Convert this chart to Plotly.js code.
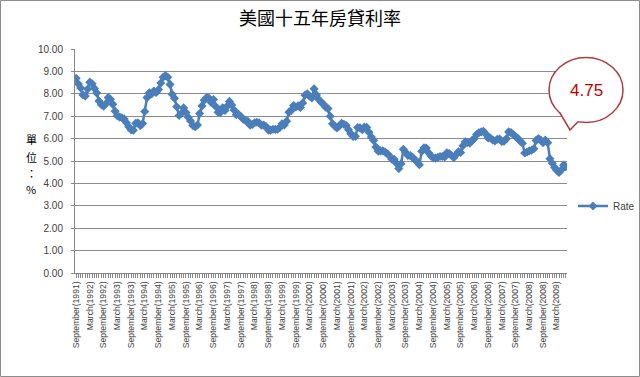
<!DOCTYPE html>
<html>
<head>
<meta charset="utf-8">
<script src="https://cdn.plot.ly/plotly-3.0.1.min.js"></script>
<style>
  html, body { margin: 0; padding: 0; background: #fff; overflow: hidden; width: 640px; height: 377px; }
  #chart { width: 640px; height: 377px; }
</style>
</head>
<body>
<div id="chart"></div>
<script>
// Monthly 15-year mortgage rate (%), September 1991 – July 2009
const startYear = 1991;
const startMonth = 9;
const rates1991 = [8.69, 8.44, 8.26, 7.95];
const rates1992 = [7.90, 8.21, 8.52, 8.45, 8.24, 8.04, 7.68, 7.51, 7.45, 7.56, 7.83, 7.76];
const rates1993 = [7.53, 7.22, 7.02, 6.96, 6.93, 6.88, 6.71, 6.53, 6.39, 6.37, 6.68, 6.70];
const rates1994 = [6.58, 6.67, 7.21, 7.83, 8.05, 7.99, 8.12, 8.06, 8.19, 8.48, 8.74, 8.82];
const rates1995 = [8.74, 8.42, 7.98, 7.80, 7.42, 7.03, 7.13, 7.37, 7.16, 6.95, 6.79, 6.59];
const rates1996 = [6.53, 6.61, 7.12, 7.46, 7.71, 7.83, 7.81, 7.61, 7.74, 7.43, 7.18, 7.16];
const rates1997 = [7.38, 7.26, 7.44, 7.66, 7.50, 7.28, 7.07, 7.08, 6.98, 6.87, 6.80, 6.77];
const rates1998 = [6.60, 6.63, 6.71, 6.73, 6.70, 6.60, 6.60, 6.54, 6.38, 6.38, 6.42, 6.41];
const rates1999 = [6.42, 6.50, 6.66, 6.61, 6.78, 7.18, 7.26, 7.48, 7.41, 7.46, 7.39, 7.59];
const rates2000 = [7.94, 8.00, 7.89, 7.82, 8.22, 7.95, 7.75, 7.63, 7.54, 7.40, 7.34, 7.00];
const rates2001 = [6.66, 6.55, 6.47, 6.57, 6.68, 6.64, 6.58, 6.40, 6.22, 6.10, 6.10, 6.49];
const rates2002 = [6.48, 6.40, 6.52, 6.50, 6.28, 6.07, 5.92, 5.62, 5.44, 5.45, 5.45, 5.40];
const rates2003 = [5.32, 5.21, 5.08, 5.08, 4.90, 4.66, 4.88, 5.52, 5.38, 5.25, 5.24, 5.16];
const rates2004 = [5.07, 4.95, 4.83, 5.43, 5.59, 5.58, 5.37, 5.22, 5.14, 5.13, 5.16, 5.20];
const rates2005 = [5.20, 5.18, 5.37, 5.33, 5.25, 5.15, 5.28, 5.41, 5.38, 5.68, 5.86, 5.83];
const rates2006 = [5.80, 5.92, 6.00, 6.18, 6.26, 6.30, 6.33, 6.20, 6.03, 6.03, 5.94, 5.89];
const rates2007 = [5.97, 5.98, 5.87, 5.88, 5.99, 6.30, 6.27, 6.18, 6.09, 6.01, 5.89, 5.79];
const rates2008 = [5.36, 5.40, 5.45, 5.48, 5.55, 5.92, 6.00, 5.93, 5.82, 5.93, 5.82, 5.10];
const rates2009 = [4.90, 4.71, 4.59, 4.49, 4.60, 4.82, 4.75];

const seriesName = 'Rate';
const chartTitle = '美國十五年房貸利率';
const yTitleChars = ['單', '位', '：', '%'];
const calloutText = '4.75';

const rates = [].concat(rates1991, rates1992, rates1993, rates1994, rates1995,
  rates1996, rates1997, rates1998, rates1999, rates2000, rates2001, rates2002,
  rates2003, rates2004, rates2005, rates2006, rates2007, rates2008, rates2009);

const months = [];
for (let i = 0; i < rates.length; i++) {
  const m0 = startMonth - 1 + i;
  const y = startYear + Math.floor(m0 / 12);
  const m = (m0 % 12) + 1;
  months.push(y + '-' + String(m).padStart(2, '0') + '-01');
}

// pixel -> paper helpers (plot area 75..567 x, 49..273 y)
const L = 75, R = 567, T = 49, B = 273;
const px = v => (v - L) / (R - L);
const py = v => (B - v) / (B - T);

const blue = '#4a7ebb';
const red = '#b03a3a';

const trace = {
  x: months,
  y: rates,
  type: 'scatter',
  mode: 'lines+markers',
  name: seriesName,
  line: { color: blue, width: 2.5 },
  marker: { symbol: 'diamond', size: 7, color: blue }
};

const tail = [[560, 113], [570, 130], [578, 121.7]];
const tailPath = 'M ' + tail.map(p => px(p[0]) + ',' + py(p[1])).join(' L ');
const tailFill = tailPath + ' L ' + px(570) + ',' + py(112) + ' Z';

const yTitleY = [139, 157, 173, 189];
const yTitleAnns = yTitleChars.map((c, i) => ({
  text: c,
  xref: 'paper', yref: 'paper',
  x: px(31), y: py(yTitleY[i]),
  xanchor: 'center', yanchor: 'middle',
  showarrow: false,
  font: { family: 'Noto Sans CJK TC, sans-serif', size: 11, color: '#000' }
}));

const layout = {
  width: 640,
  height: 377,
  margin: { l: L, r: 640 - R, t: T, b: 377 - B, pad: 0, autoexpand: false },
  paper_bgcolor: '#ffffff',
  plot_bgcolor: '#ffffff',
  font: { family: 'Liberation Sans, Arial, sans-serif', size: 10, color: '#404040' },
  title: {
    text: chartTitle,
    font: { family: 'Noto Sans CJK TC, sans-serif', size: 18, color: '#000' },
    x: 0.5, xref: 'container', xanchor: 'center',
    y: 1 - 19 / 377, yref: 'container', yanchor: 'middle'
  },
  xaxis: {
    type: 'date',
    range: ['1991-08-17', '2009-07-16'],
    tick0: '1991-09-01',
    dtick: 'M6',
    tickformat: '%B(%Y)',
    tickangle: -90,
    tickfont: { family: 'Liberation Sans, Arial, sans-serif', size: 8.6, color: '#404040' },
    ticks: 'outside',
    ticklen: 4,
    tickcolor: '#868686',
    minor: { dtick: 'M1', ticks: 'outside', ticklen: 4, tickcolor: '#868686', showgrid: false },
    showgrid: false,
    showline: true,
    linecolor: '#868686',
    linewidth: 1,
    zeroline: false,
    fixedrange: true
  },
  yaxis: {
    range: [0, 10],
    dtick: 1,
    tickformat: '.2f',
    tickfont: { size: 10, color: '#404040' },
    ticks: 'outside',
    ticklen: 3,
    tickcolor: '#868686',
    ticklabelstandoff: 6,
    showgrid: true,
    gridcolor: '#8c8c8c',
    gridwidth: 1,
    showline: true,
    linecolor: '#868686',
    zeroline: false,
    fixedrange: true
  },
  showlegend: true,
  legend: {
    x: px(573), xanchor: 'left',
    y: py(206), yanchor: 'middle',
    bgcolor: 'rgba(0,0,0,0)',
    font: { size: 10, color: '#404040' },
    itemwidth: 30
  },
  annotations: yTitleAnns.concat([
    {
      text: calloutText,
      xref: 'paper', yref: 'paper',
      x: px(586), y: py(90),
      xanchor: 'center', yanchor: 'middle',
      showarrow: false,
      font: { family: 'Liberation Sans, Arial, sans-serif', size: 17, color: '#c00000' }
    }
  ]),
  shapes: [
    {
      type: 'rect', xref: 'paper', yref: 'paper', layer: 'above',
      x0: px(0.5), x1: px(639.5), y0: py(376.5), y1: py(0.5),
      line: { color: '#8c8c8c', width: 1 }, fillcolor: 'rgba(0,0,0,0)'
    },
    {
      type: 'circle', xref: 'paper', yref: 'paper', layer: 'above',
      x0: px(586 - 37), x1: px(586 + 37), y0: py(90 + 32.5), y1: py(90 - 32.5),
      line: { color: red, width: 1.5 }, fillcolor: '#ffffff'
    },
    {
      type: 'path', xref: 'paper', yref: 'paper', layer: 'above',
      path: tailFill,
      line: { width: 0, color: 'rgba(0,0,0,0)' }, fillcolor: '#ffffff'
    },
    {
      type: 'path', xref: 'paper', yref: 'paper', layer: 'above',
      path: tailPath,
      line: { color: red, width: 1.5 }, fillcolor: 'rgba(0,0,0,0)'
    }
  ]
};

Plotly.newPlot('chart', [trace], layout, { displayModeBar: false, staticPlot: true });
</script>
</body>
</html>
